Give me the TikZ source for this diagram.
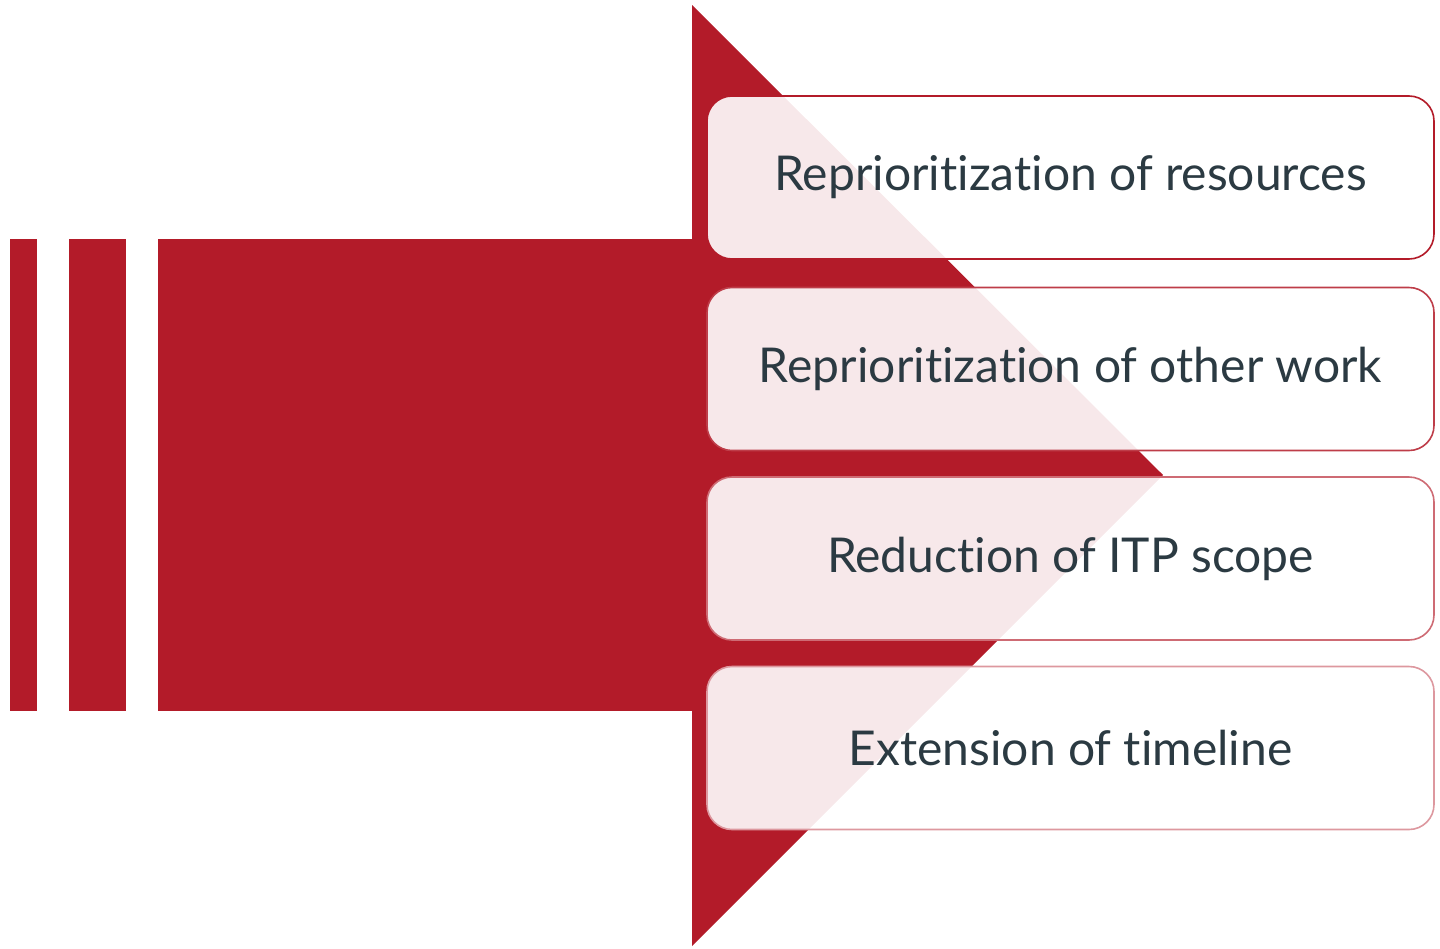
\documentclass[tikz,border=0pt]{standalone}
\usepackage{fontspec}
\setmainfont[Ligatures=NoCommon]{Lato}
\definecolor{arrowred}{HTML}{B31B29}
\definecolor{textgrey}{HTML}{2B3A42}

\begin{document}
\begin{tikzpicture}[x=1pt,y=-1pt,
		option/.style={draw=#1, line width=1.6pt, fill=white, fill opacity=0.9, text opacity=1,
			rounded corners=25pt, minimum width=727pt, minimum height=163pt,
			text=textgrey, font=\fontsize{48}{54}\selectfont}]
		\useasboundingbox (0,0) rectangle (1440,948);

		\fill[arrowred] (10,239) rectangle (37,711);
		\fill[arrowred] (69,239) rectangle (126,711);
		\fill[arrowred] (158,239) rectangle (692,711);
		\fill[arrowred] (692,5) -- (1163,475) -- (692,946) -- cycle;

		\node[option=arrowred] (1) at (1070.5, 177.5) {Reprioritization of resources};
		\node[option=arrowred!85!white] (2) at (1070.5, 369) {Reprioritization of other work};
		\node[option=arrowred!65!white] (3) at (1070.5, 558.5) {Reduction of ITP scope};
		\node[option=arrowred!45!white] (4) at (1070.5, 748) {Extension of timeline};
	\end{tikzpicture}
\end{document}
